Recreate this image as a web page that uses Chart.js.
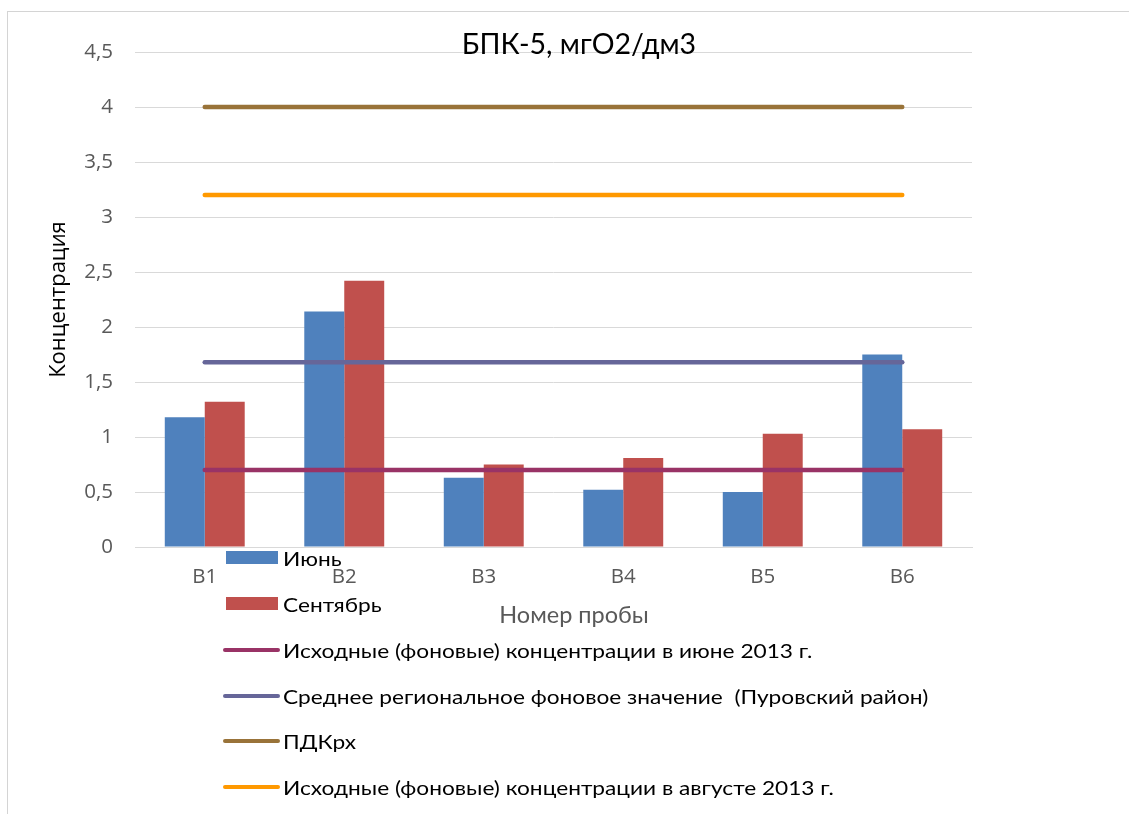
<!DOCTYPE html>
<html>
<head>
<meta charset="utf-8">
<script src="https://cdn.jsdelivr.net/npm/chart.js@4.4.1/dist/chart.umd.min.js"></script>
<style>
  html, body { margin: 0; padding: 0; background: #fff; overflow: hidden; }
  #wrap { position: relative; width: 1129px; height: 814px; overflow: hidden; }
  #frame { position: absolute; left: 7px; top: 11px; width: 1140px; height: 820px; border: 1px solid #d4d4d4; box-sizing: border-box; }
  #chart { position: absolute; left: 0; top: 0; }
  #legend { position: absolute; left: 0; top: 0; width: 1129px; height: 814px; pointer-events: none;
            font-family: Lato, "Open Sans", sans-serif; font-size: 20px; color: #000; }
  .row { position: absolute; left: 223px; height: 30px; display: flex; align-items: center; white-space: pre; }
  .sw-bar { width: 52px; height: 13px; margin-left: 3px; margin-right: 5px; flex: none; }
  .sw-line { width: 57px; height: 4.5px; border-radius: 3px; margin-right: 3px; flex: none; }
  .txt { display: inline-block; transform: scaleX(1.134); transform-origin: left center; }
</style>
</head>
<body>
<div id="wrap">
  <div id="frame"></div>
  <canvas id="chart" width="1129" height="814"></canvas>
  <div id="legend"></div>
</div>
<script>
// BOD-5 by sample point, June and September, with reference levels
const chartTitle = 'БПК-5, мгО2/дм3';
const xAxisTitle = 'Номер пробы';
const yAxisTitle = 'Концентрация';

const categories = ['B1', 'B2', 'B3', 'B4', 'B5', 'B6'];
const yTickLabels = ['0', '0,5', '1', '1,5', '2', '2,5', '3', '3,5', '4', '4,5'];

const juneValues      = [1.18, 2.14, 0.63, 0.52, 0.50, 1.75];
const septemberValues = [1.32, 2.42, 0.75, 0.81, 1.03, 1.07];

const juneBackground2013   = [0.70, 0.70, 0.70, 0.70, 0.70, 0.70];
const regionalMean         = [1.68, 1.68, 1.68, 1.68, 1.68, 1.68];
const pdkFishery           = [4.0, 4.0, 4.0, 4.0, 4.0, 4.0];
const augustBackground2013 = [3.2, 3.2, 3.2, 3.2, 3.2, 3.2];

const seriesNames = [
  'Июнь',
  'Сентябрь',
  'Исходные (фоновые) концентрации в июне 2013 г.',
  'Среднее региональное фоновое значение  (Пуровский район)',
  'ПДКрх',
  'Исходные (фоновые) концентрации в августе 2013 г.'
];
const seriesColors = ['#4F81BD', '#C0504D', '#993366', '#666699', '#997339', '#FF9900'];

const FONT = 'Lato, "Open Sans", sans-serif';
const TICK_FONT = '"Open Sans", Lato, sans-serif';

function barSet(i, data) {
  return {
    type: 'bar', label: seriesNames[i], data,
    backgroundColor: seriesColors[i], borderWidth: 0,
    categoryPercentage: 0.573, barPercentage: 1.0, order: 2
  };
}
function lineSet(i, data) {
  return {
    type: 'line', label: seriesNames[i], data,
    borderColor: seriesColors[i], backgroundColor: seriesColors[i],
    borderWidth: 4.5, borderCapStyle: 'round', pointRadius: 0, pointHoverRadius: 0,
    tension: 0, fill: false, order: 1
  };
}

// Chart heading and the category-axis caption
const headerPlugin = {
  id: 'header',
  afterDraw(chart) {
    const ctx = chart.ctx;
    ctx.save();
    ctx.textAlign = 'center';
    ctx.textBaseline = 'alphabetic';
    ctx.fillStyle = '#000';
    ctx.font = '28.5px ' + FONT;
    ctx.fillText(chartTitle, 579, 54);
    ctx.fillStyle = '#595959';
    ctx.font = '23.5px ' + FONT;
    ctx.fillText(xAxisTitle, 574, 623);
    ctx.restore();
  }
};

new Chart(document.getElementById('chart'), {
  data: {
    labels: categories,
    datasets: [
      barSet(0, juneValues),
      barSet(1, septemberValues),
      lineSet(2, juneBackground2013),
      lineSet(3, regionalMean),
      lineSet(4, pdkFishery),
      lineSet(5, augustBackground2013)
    ]
  },
  options: {
    responsive: false,
    animation: false,
    devicePixelRatio: 1,
    layout: { padding: { left: 8, right: 157, top: 52, bottom: 187 } },
    plugins: { legend: { display: false }, tooltip: { enabled: false }, title: { display: false } },
    scales: {
      x: {
        grid: { display: false, drawTicks: false },
        border: { display: true, color: '#d9d9d9', width: 1 },
        ticks: { color: '#595959', font: { family: TICK_FONT, size: 20.5 }, padding: 18 },
        title: { display: false },
        afterFit(scale) { scale.height = 80; }
      },
      y: {
        min: 0, max: 4.5,
        ticks: { stepSize: 0.5, color: '#595959', font: { family: TICK_FONT, size: 20.5 }, padding: 22,
                 callback: (v, i) => yTickLabels[i] },
        grid: { color: '#d9d9d9', lineWidth: 1, drawTicks: false },
        border: { display: false },
        title: { display: true, text: yAxisTitle, color: '#000',
                 font: { family: TICK_FONT, size: 22 }, padding: { top: 38, bottom: 0 } },
        afterFit(scale) { scale.width = 127; }
      }
    }
  },
  plugins: [headerPlugin]
});

// Legend: a vertical list under the plot, built from the same series names and colours
const legendRows = [557.5, 603.7, 650, 696, 741, 787];
const legend = document.getElementById('legend');
seriesNames.forEach((name, i) => {
  const row = document.createElement('div');
  row.className = 'row';
  row.style.top = (legendRows[i] - 15) + 'px';
  const sw = document.createElement('span');
  sw.className = i < 2 ? 'sw-bar' : 'sw-line';
  sw.style.background = seriesColors[i];
  const txt = document.createElement('span');
  txt.className = 'txt';
  txt.textContent = name;
  row.appendChild(sw);
  row.appendChild(txt);
  legend.appendChild(row);
});
</script>
</body>
</html>
